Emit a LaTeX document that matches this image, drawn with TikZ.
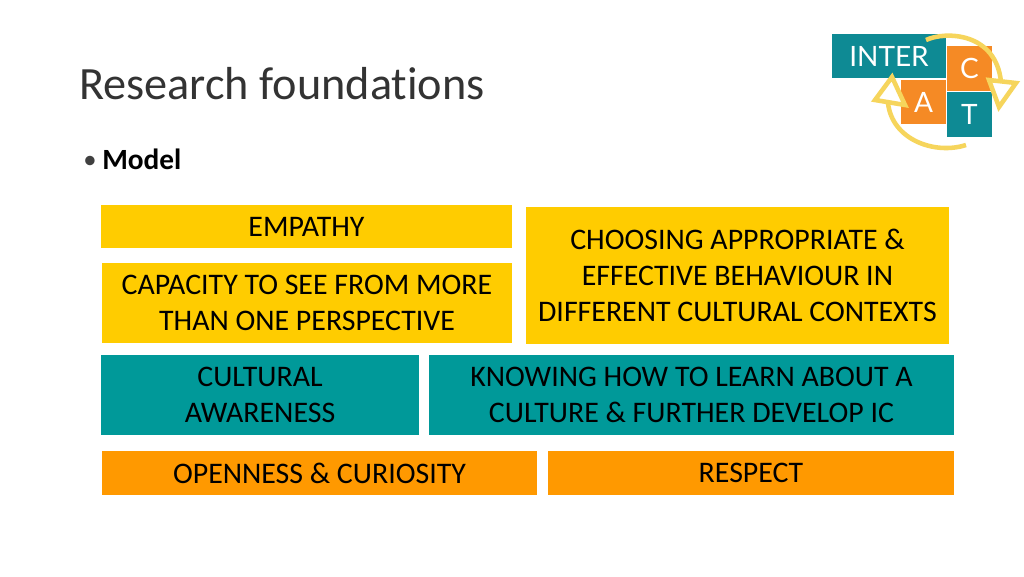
\documentclass[tikz,border=0pt]{standalone}
\usepackage{fontspec}
\setmainfont[Ligatures=NoCommon]{Carlito}
\newfontfamily\logofont{Lato}
\usetikzlibrary{calc}
\definecolor{ygold}{HTML}{FFCC00}
\definecolor{tealbox}{HTML}{009999}
\definecolor{orangebox}{HTML}{FF9900}
\definecolor{logoteal}{HTML}{0E8A94}
\definecolor{logoorange}{HTML}{F58A25}
\definecolor{logoyellow}{HTML}{F6D55C}
\tikzset{
  px/.style={x=0.75pt,y=-0.75pt},
  modelbox/.style={inner sep=0pt,align=center,text=black,font=\fontsize{22.4}{27}\selectfont},
  logobox/.style={inner sep=0pt,text=white,font=\logofont\fontsize{21}{24}\selectfont},
  logoarrow/.style={draw=logoyellow,line width=3.4pt,line join=miter},
}
% name, x1, y1, x2, y2, style, text
\newcommand{\pxbox}[7]{%
  \pgfmathsetmacro{\pxw}{(#4-#2)*0.75}%
  \pgfmathsetmacro{\pxh}{(#5-#3)*0.75}%
  \node[#6,minimum width=\pxw pt,minimum height=\pxh pt,anchor=center] (#1) at ({(#2+#4)/2},{(#3+#5)/2}) {#7};%
}
\begin{document}
\begin{tikzpicture}[px]
\useasboundingbox (0,0) rectangle (1024,576);
\fill[white] (0,0) rectangle (1024,576);

\node[anchor=base west,inner sep=0pt,font=\fontsize{34.7}{40}\selectfont,text=black!80] (title) at (79,99) {Research foundations};
\node[anchor=base west,inner sep=0pt,font=\fontsize{20}{24}\selectfont,text=black!75] (bullet) at (83,168) {•};
\node[anchor=base west,inner sep=0pt,font=\bfseries\fontsize{22}{24}\selectfont] (model) at (102,169) {Model};

\pxbox{empathy}{101}{205}{512}{248}{modelbox,fill=ygold}{EMPATHY}
\pxbox{capacity}{102}{263}{512}{343}{modelbox,fill=ygold}{CAPACITY TO SEE FROM MORE\\THAN ONE PERSPECTIVE}
\pxbox{choosing}{526}{207}{949}{344}{modelbox,fill=ygold}{CHOOSING APPROPRIATE \&\\EFFECTIVE BEHAVIOUR IN\\DIFFERENT CULTURAL CONTEXTS}
\pxbox{cultural}{101}{355}{419}{435}{modelbox,fill=tealbox}{CULTURAL\\AWARENESS}
\pxbox{knowing}{429}{355}{954}{435}{modelbox,fill=tealbox}{KNOWING HOW TO LEARN ABOUT A\\CULTURE \& FURTHER DEVELOP IC}
\pxbox{openness}{102}{451}{537}{495}{modelbox,fill=orangebox}{OPENNESS \& CURIOSITY}
\pxbox{respect}{548}{451}{954}{495}{modelbox,fill=orangebox}{RESPECT}

% logo
\pxbox{linter}{832}{34}{946}{78}{logobox,fill=logoteal}{\raisebox{-1.5pt}{INTER}}
\pxbox{lc}{947}{46}{992}{91}{logobox,fill=logoorange}{\raisebox{-2.5pt}{C}}
\pxbox{lt}{947}{92}{992}{137}{logobox,fill=logoteal}{\raisebox{0.5pt}{T}}
\pxbox{la}{901}{80}{946}{124}{logobox,fill=logoorange}{A}
\draw[logoarrow] (926,40) .. controls (945,31) and (996,32) .. (1001,82);
\draw[logoarrow] (1016,83) -- (989,80) -- (999,107) -- cycle;
\draw[logoarrow] (966,145) .. controls (935,155) and (892,140) .. (888,103);
\draw[logoarrow] (892,77) -- (875,100) -- (905,105) -- cycle;
\end{tikzpicture}
\end{document}
